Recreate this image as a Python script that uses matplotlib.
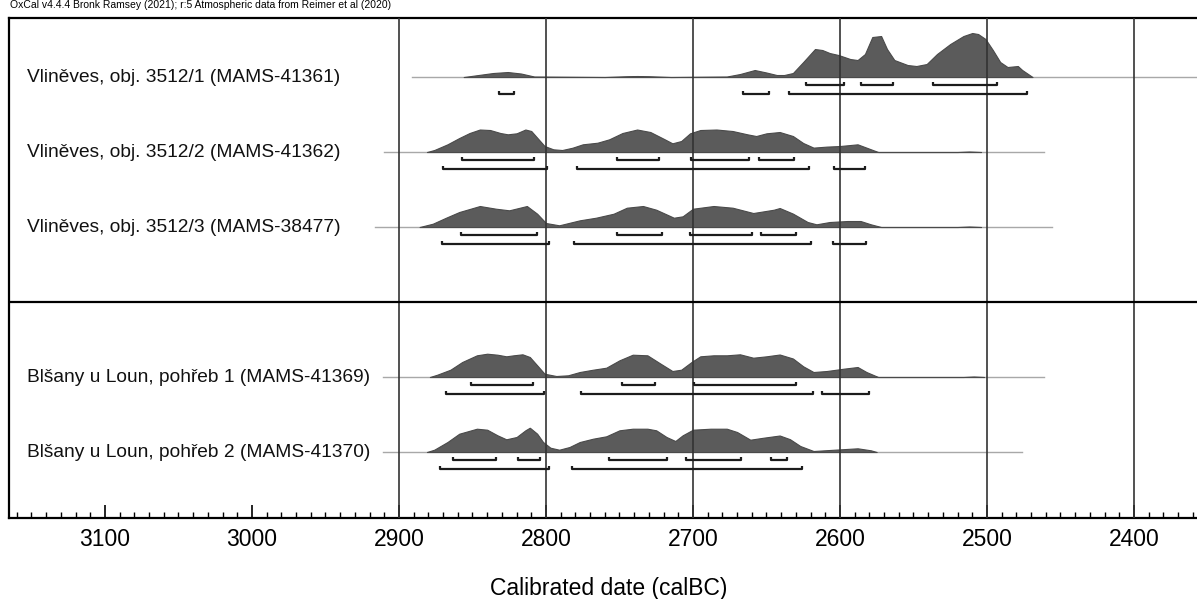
import matplotlib.pyplot as plt
import numpy as np

plt.rcParams['font.family'] = ['Liberation Sans', 'DejaVu Sans']

# sample names (top group, then bottom group)
labels = [
    "Vliněves, obj. 3512/1 (MAMS-41361)",
    "Vliněves, obj. 3512/2 (MAMS-41362)",
    "Vliněves, obj. 3512/3 (MAMS-38477)",
    "Blšany u Loun, pohřeb 1 (MAMS-41369)",
    "Blšany u Loun, pohřeb 2 (MAMS-41370)",
]

# calibrated probability curves, years calBC / relative density
years1 = [2856, 2846, 2836, 2826, 2817, 2808, 2760, 2745, 2738, 2730, 2715, 2677, 2668,
          2658, 2650, 2643, 2638, 2632, 2625, 2617, 2612, 2607, 2601, 2593, 2588, 2583,
          2578, 2572, 2568, 2563, 2554, 2548, 2541, 2534, 2525, 2516, 2510, 2506, 2501,
          2496, 2491, 2486, 2479, 2476, 2469]
dens1 = [0, 2, 4, 5, 3.5, 0.5, 0, 0.8, 1, 0.8, 0, 0.5, 3,
         7, 4.5, 2, 2, 4, 15, 28, 27, 24, 22, 18, 17, 23,
         40, 41, 28, 17, 12, 11, 13, 23, 33, 41, 44, 43, 38,
         27, 15, 10, 11, 7, 0]

years2 = [2881, 2876, 2867, 2859, 2852, 2845, 2838, 2831, 2826, 2820, 2814, 2810, 2805,
          2801, 2795, 2789, 2782, 2775, 2765, 2757, 2748, 2738, 2729, 2720, 2714, 2708,
          2702, 2695, 2684, 2673, 2663, 2657, 2650, 2641, 2632, 2625, 2618, 2609, 2600,
          2588, 2582, 2574, 2520, 2512, 2504]
dens2 = [0, 2, 7.7, 14, 19, 22.5, 22, 19, 17.7, 18.7, 22.5, 21, 12.7,
         6, 2.7, 2, 4.3, 7.7, 9.3, 12.7, 19, 22.5, 20, 13.3, 8.7, 11,
         18.7, 22, 22.5, 21, 17.7, 16, 18.7, 20, 16, 9, 4.4, 5.4, 6,
         7.7, 4.4, 0, 0, 0.5, 0]

years3 = [2886, 2877, 2868, 2859, 2845, 2834, 2825, 2813, 2806, 2800, 2791, 2777, 2766,
          2754, 2745, 2734, 2725, 2713, 2707, 2700, 2686, 2673, 2659, 2645, 2641, 2632,
          2622, 2616, 2607, 2595, 2586, 2579, 2572, 2520, 2512, 2504]
dens3 = [0, 3.3, 9.3, 15, 21, 18.3, 16.7, 21, 13.3, 4, 1.7, 6.7, 9.3,
         13.3, 19.3, 21, 17.3, 9.3, 10.7, 18.3, 21, 19.3, 14, 17.3, 19, 13.4,
         5, 2.7, 5, 6, 6, 2.7, 0, 0, 0.5, 0]

years4 = [2879, 2874, 2865, 2857, 2847, 2840, 2833, 2827, 2822, 2816, 2811, 2806, 2801,
          2793, 2785, 2777, 2768, 2759, 2750, 2741, 2731, 2722, 2714, 2708, 2701, 2695,
          2686, 2677, 2668, 2659, 2650, 2641, 2632, 2625, 2618, 2609, 2597, 2588, 2582,
          2574, 2516, 2509, 2502]
dens4 = [0, 2.3, 7.3, 15, 21.7, 23.3, 22.3, 20.7, 21.7, 22.7, 20, 11.7, 3.3,
         1, 1.7, 5, 7.3, 9.3, 16.7, 22.3, 21.7, 13.3, 6, 7.3, 15, 20.7,
         21.7, 21.7, 22.7, 19.3, 20.7, 22.5, 18.5, 10.7, 5, 6, 8.4, 10, 5,
         0, 0, 0.5, 0]

years5 = [2881, 2876, 2867, 2859, 2847, 2840, 2833, 2827, 2820, 2814, 2811, 2806, 2802,
          2797, 2791, 2784, 2777, 2768, 2759, 2750, 2741, 2731, 2725, 2718, 2712, 2707,
          2700, 2688, 2677, 2670, 2661, 2652, 2641, 2634, 2627, 2618, 2607, 2588, 2579,
          2575]
dens5 = [0, 2.3, 10, 18.3, 23.3, 22.3, 16.7, 12.7, 15, 21.7, 24.3, 18.3, 10,
         4.3, 2.3, 5, 10, 13.3, 15.7, 21.7, 23.3, 23.3, 21.7, 15, 11, 16.7,
         22.3, 23.3, 23.3, 20, 12.3, 14.3, 16.5, 12.8, 6, 1, 2, 3.7, 1.7,
         0]

# extent of each calibration line (calBC)
line_from = [2891, 2910, 2916, 2911, 2911]
line_to = [2300, 2461, 2456, 2461, 2476]

# highest posterior density ranges
hpd68 = [
    [(2623, 2597), (2586, 2564), (2537, 2493)],
    [(2857, 2808), (2752, 2723), (2701, 2662), (2655, 2631)],
    [(2858, 2806), (2752, 2721), (2702, 2660), (2654, 2630)],
    [(2851, 2809), (2748, 2726), (2699, 2630)],
    [(2863, 2834), (2819, 2804), (2757, 2718), (2705, 2667), (2647, 2636)],
]
hpd95 = [
    [(2832, 2822), (2666, 2648), (2635, 2473)],
    [(2870, 2799), (2779, 2621), (2604, 2583)],
    [(2871, 2798), (2781, 2620), (2605, 2582)],
    [(2868, 2801), (2776, 2618), (2612, 2580)],
    [(2872, 2798), (2782, 2626)],
]

years = [years1, years2, years3, years4, years5]
dens = [dens1, dens2, dens3, dens4, dens5]
rows = [0, 1, 2, 4, 5]

fig = plt.figure(figsize=(11.97, 5.99), dpi=100)
ax = fig.add_axes([9 / 1197, 81 / 599, 1188 / 1197, 500 / 599])
ax.set_xlim(3165.3, 2357.1)
ax.set_ylim(5.88, -0.787)

scale = 1 / 75.0
for i, r in enumerate(rows):
    ax.plot([line_from[i], line_to[i]], [r, r], color='#a8a8a8', lw=1.0, zorder=1)
    y = np.array(dens[i]) * scale
    ax.fill_between(years[i], r - y, r, color='#5b5b5b', lw=0.8,
                    edgecolor='#4a4a4a', zorder=2)
    for lev, ranges in ((0.113, hpd68[i]), (0.233, hpd95[i])):
        for a, b in ranges:
            ax.plot([a, a, b, b], [r + lev - 0.05, r + lev, r + lev, r + lev - 0.05],
                    color='#1c1c1c', lw=1.6, solid_capstyle='butt', zorder=4)
    ax.text(3153, r, labels[i], ha='left', va='center', fontsize=13.8, color='#111111')

# vertical grid lines and group separator
for g in range(2400, 2901, 100):
    ax.axvline(g, color='#333333', lw=1.2, zorder=3)
ax.axhline(3, color='black', lw=1.6, zorder=3)

ax.set_xticks(np.arange(2400, 3101, 100))
ax.set_xticks(np.arange(2360, 3170, 10), minor=True)
ax.tick_params(axis='x', which='major', direction='in', length=9.5, width=1.2,
               labelsize=16.5, pad=7)
ax.tick_params(axis='x', which='minor', direction='in', length=4.5, width=1)
ax.set_yticks([])
for s in ['left', 'top', 'bottom']:
    ax.spines[s].set_linewidth(1.6)
ax.spines['right'].set_visible(False)

fig.text(609 / 1197, 1 - 588 / 599, 'Calibrated date (calBC)', ha='center', va='center',
         fontsize=16.5)
fig.text(10 / 1197, 1 - 8 / 599,
         'OxCal v4.4.4 Bronk Ramsey (2021); r:5 Atmospheric data from Reimer et al (2020)',
         ha='left', va='baseline', fontsize=7.5)

fig.savefig('out.png', dpi=100)
